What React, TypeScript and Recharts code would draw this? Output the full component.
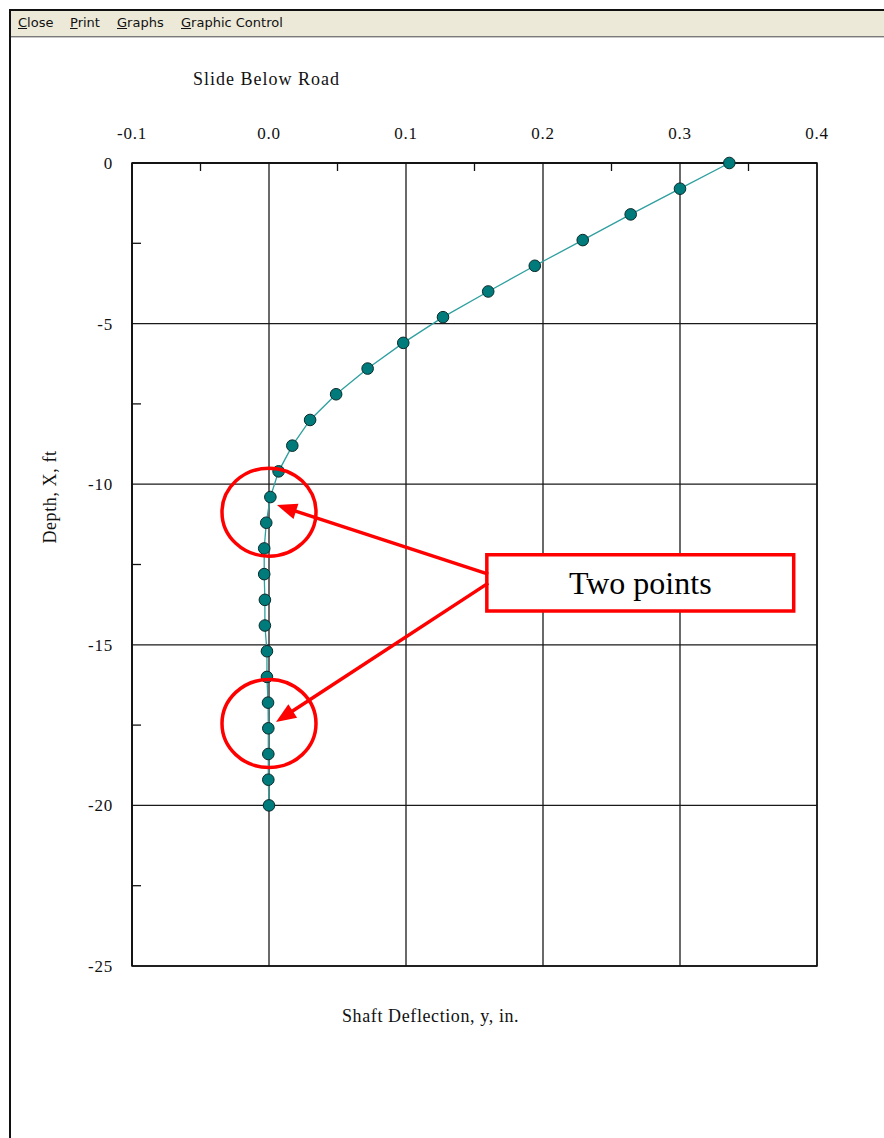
import React from "react";
import {
  LineChart,
  Line,
  XAxis,
  YAxis,
  CartesianGrid,
  ReferenceArea,
  ReferenceLine,
  ReferenceDot,
} from "recharts";

// shaft deflection profile, one reading every 0.8 ft
const depthFt = [
  0, -0.8, -1.6, -2.4, -3.2, -4.0, -4.8, -5.6, -6.4, -7.2, -8.0, -8.8, -9.6,
  -10.4, -11.2, -12.0, -12.8, -13.6, -14.4, -15.2, -16.0, -16.8, -17.6, -18.4,
  -19.2, -20.0,
];
const deflectionIn = [
  0.336, 0.3, 0.264, 0.229, 0.194, 0.16, 0.127, 0.098, 0.072, 0.049, 0.03,
  0.017, 0.007, 0.001, -0.002, -0.0035, -0.0035, -0.003, -0.003, -0.0015,
  -0.0015, -0.0007, -0.0005, -0.0005, -0.0005, 0,
];

const xTicks = [-0.1, 0.0, 0.1, 0.2, 0.3, 0.4];
const xMinorTicks = [-0.05, 0.05, 0.15, 0.25, 0.35];
const yTicks = [0, -5, -10, -15, -20, -25];
const yMinorTicks = [-2.5, -7.5, -12.5, -17.5, -22.5];

// callouts: circled points and the note box pointing at them
const circledDepths = [-10.87, -17.45];
const noteBox = { x1: 0.159, x2: 0.383, y1: -12.2, y2: -13.95, text: "Two points" };
const arrows = [
  { from: { x: 0.16, y: -12.8 }, to: { x: 0.0058, y: -10.65 } },
  { from: { x: 0.16, y: -13.08 }, to: { x: 0.0051, y: -17.4 } },
];

const data = depthFt.map((d, i) => ({ defl: deflectionIn[i], depth: d }));

const serif = "'Liberation Serif', 'DejaVu Serif', serif";
const RED = "#ff0000";

const TopTickMark = (p: any) => {
  const top = Math.min(p.y1, p.y2);
  return <line x1={p.x1} x2={p.x1} y1={top} y2={top + 8} stroke="#111" strokeWidth={1.3} />;
};

const LeftTickMark = (p: any) => {
  const left = Math.min(p.x1, p.x2);
  return <line x1={left} x2={left + 9} y1={p.y1} y2={p.y1} stroke="#111" strokeWidth={1.3} />;
};

const Ring = (p: any) => (
  <ellipse cx={p.cx} cy={p.cy} rx={47} ry={44} fill="none" stroke={RED} strokeWidth={3.5} />
);

const Arrow = (p: any) => {
  const { x1, y1, x2, y2 } = p;
  const dx = x2 - x1;
  const dy = y2 - y1;
  const len = Math.sqrt(dx * dx + dy * dy);
  const ux = dx / len;
  const uy = dy / len;
  const head = 20;
  const half = 8;
  const bx = x2 - ux * head;
  const by = y2 - uy * head;
  const pts = `${x2},${y2} ${bx - uy * half},${by + ux * half} ${bx + uy * half},${by - ux * half}`;
  return (
    <g>
      <line x1={x1} y1={y1} x2={bx + ux * 2} y2={by + uy * 2} stroke={RED} strokeWidth={3.5} />
      <polygon points={pts} fill={RED} />
    </g>
  );
};

const menuItems = ["Close", "Print", "Graphs", "Graphic Control"];
const menuX = [18, 70, 117, 181];

const tickStyle = { fill: "#111", fontSize: 17, fontFamily: serif, letterSpacing: 0.8 };

export default function App() {
  return (
    <div
      style={{
        position: "absolute",
        left: 0,
        top: 0,
        width: 884,
        height: 1138,
        background: "#fff",
        overflow: "hidden",
      }}
    >
      <div style={{ position: "absolute", left: 0, top: 0 }}>
        <LineChart
          width={884}
          height={1138}
          data={data}
          margin={{ top: 162, right: 67, bottom: 172, left: 131 }}
        >
          <CartesianGrid stroke="#1a1a1a" strokeWidth={1.3} />
          <XAxis
            type="number"
            dataKey="defl"
            orientation="top"
            domain={[-0.1, 0.4]}
            ticks={xTicks}
            tickFormatter={(v: number) => v.toFixed(1)}
            height={1}
            tickSize={0}
            tickMargin={24}
            tickLine={false}
            axisLine={{ stroke: "#111", strokeWidth: 1.5 }}
            tick={tickStyle}
            interval={0}
          />
          <YAxis
            type="number"
            domain={[-25, 0]}
            ticks={yTicks}
            width={1}
            tickSize={0}
            tickMargin={19}
            tickLine={false}
            axisLine={{ stroke: "#111", strokeWidth: 1.5 }}
            tick={tickStyle}
            interval={0}
          />
          <ReferenceArea
            x1={-0.1}
            x2={0.4}
            y1={-25}
            y2={0}
            fill="none"
            fillOpacity={0}
            stroke="#111"
            strokeWidth={1.5}
          />
          {xMinorTicks.map((v) => (
            <ReferenceLine key={`xm${v}`} x={v} shape={TopTickMark} />
          ))}
          {yMinorTicks.map((v) => (
            <ReferenceLine key={`ym${v}`} y={v} shape={LeftTickMark} />
          ))}
          <Line
            type="linear"
            dataKey="depth"
            stroke="#2f9f9f"
            strokeWidth={1.3}
            dot={{ r: 5.8, fill: "#007b7b", stroke: "#0b2a2a", strokeWidth: 1, fillOpacity: 1 }}
            activeDot={false}
            isAnimationActive={false}
          />
          <ReferenceArea
            x1={noteBox.x1}
            x2={noteBox.x2}
            y1={noteBox.y1}
            y2={noteBox.y2}
            fill="#fff"
            fillOpacity={1}
            stroke={RED}
            strokeWidth={3.5}
            label={{
              value: noteBox.text,
              position: "center",
              fontSize: 32,
              fontFamily: serif,
              fill: "#000",
            }}
          />
          {arrows.map((a, i) => (
            <ReferenceLine key={`ar${i}`} segment={[a.from, a.to]} shape={Arrow} />
          ))}
          {circledDepths.map((d) => (
            <ReferenceDot key={`c${d}`} x={0} y={d} r={44} shape={Ring} />
          ))}
        </LineChart>
      </div>

      {/* window frame and menu bar */}
      <div style={{ position: "absolute", left: 9, top: 9, width: 875, height: 2, background: "#111" }} />
      <div style={{ position: "absolute", left: 9, top: 9, width: 2, height: 1129, background: "#111" }} />
      <div
        style={{
          position: "absolute",
          left: 11,
          top: 11,
          width: 873,
          height: 25,
          background: "#ece9d8",
          borderBottom: "1px solid #7a7a7a",
          boxShadow: "0 1px 0 #c8c8c8",
        }}
      >
        {menuItems.map((m, i) => (
          <span
            key={m}
            style={{
              position: "absolute",
              left: menuX[i] - 11,
              top: 4,
              fontFamily: "'DejaVu Sans', sans-serif",
              fontSize: 13,
              color: "#111",
              whiteSpace: "nowrap",
            }}
          >
            <u>{m[0]}</u>
            {m.slice(1)}
          </span>
        ))}
      </div>

      <div
        style={{
          position: "absolute",
          left: 193,
          top: 69,
          fontFamily: serif,
          fontSize: 18,
          letterSpacing: 1,
          color: "#111",
          whiteSpace: "nowrap",
        }}
      >
        Slide Below Road
      </div>
      <div
        style={{
          position: "absolute",
          left: 342,
          top: 1006,
          fontFamily: serif,
          fontSize: 18,
          letterSpacing: 0.6,
          color: "#111",
          whiteSpace: "nowrap",
        }}
      >
        Shaft Deflection, y, in.
      </div>
      <div
        style={{
          position: "absolute",
          left: 50,
          top: 497,
          transform: "translate(-50%, -50%) rotate(-90deg)",
          fontFamily: serif,
          fontSize: 18,
          letterSpacing: 0.6,
          color: "#111",
          whiteSpace: "nowrap",
        }}
      >
        Depth, X, ft
      </div>
    </div>
  );
}
